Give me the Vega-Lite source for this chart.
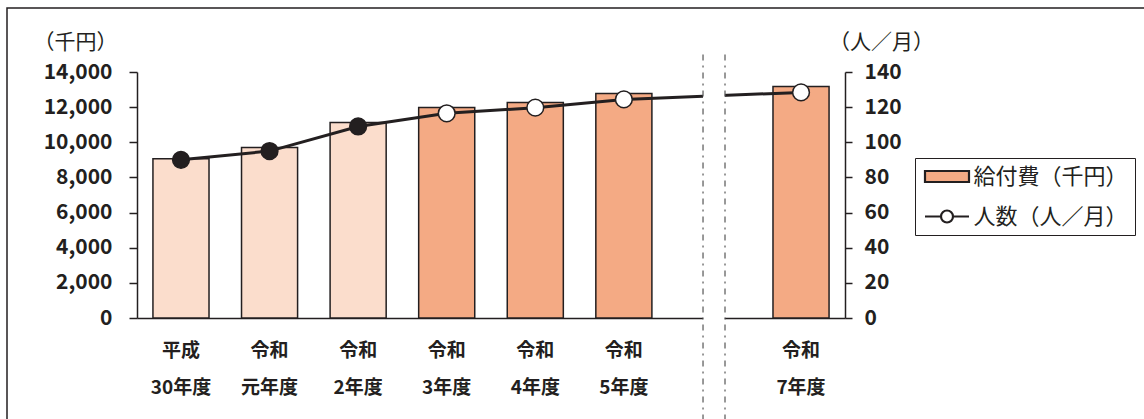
{
  "$schema": "https://vega.github.io/schema/vega-lite/v6.json",
  "width": 1137,
  "height": 411,
  "autosize": {"type": "none"},
  "padding": {"left": 7, "top": 8, "right": 0, "bottom": 0},
  "background": "white",
  "config": {
    "view": {"stroke": "#231F20", "strokeWidth": 1.5, "strokeDash": [1137, 1548, 411]},
    "font": "Noto Sans CJK JP",
    "axis": {
      "domainColor": "#231F20", "domainWidth": 1.5,
      "tickColor": "#231F20", "tickWidth": 1.5,
      "labelColor": "#231F20", "labelFont": "Noto Sans CJK JP", "labelFontWeight": "bold",
      "titleColor": "#231F20", "titleFont": "Noto Sans CJK JP", "titleFontWeight": "normal",
      "grid": false
    }
  },
  "data": {
    "values": [
      {"年度": "平成30年度", "給付費": 9070, "人数": 90, "区分": "実績"},
      {"年度": "令和元年度", "給付費": 9700, "人数": 95, "区分": "実績"},
      {"年度": "令和2年度", "給付費": 11130, "人数": 109, "区分": "実績"},
      {"年度": "令和3年度", "給付費": 11980, "人数": 116.5, "区分": "計画"},
      {"年度": "令和4年度", "給付費": 12260, "人数": 119.7, "区分": "計画"},
      {"年度": "令和5年度", "給付費": 12780, "人数": 124.4, "区分": "計画"},
      {"年度": "令和6年度", "給付費": null, "人数": null, "区分": "省略"},
      {"年度": "令和7年度", "給付費": 13180, "人数": 128.4, "区分": "計画"}
    ]
  },
  "resolve": {"scale": {"y": "independent", "fill": "independent", "color": "independent", "shape": "independent", "stroke": "independent"}},
  "layer": [
    {
      "transform": [{"filter": "isValid(datum['給付費'])"}],
      "mark": {"type": "bar", "stroke": "#231F20", "strokeWidth": 1.5},
      "encoding": {
        "x": {
          "field": "年度", "type": "nominal", "sort": null, "title": null,
          "scale": {"domain": ["平成30年度", "令和元年度", "令和2年度", "令和3年度", "令和4年度", "令和5年度", "令和6年度", "令和7年度"], "range": [130, 838], "paddingInner": 0.367, "paddingOuter": 0.18},
          "axis": {
            "orient": "bottom", "offset": -101, "ticks": false, "labelPadding": 23,
            "labelFontSize": 19, "labelLineHeight": 37, "labelAngle": 0, "labelOverlap": false,
            "labelExpr": "datum.value == '令和6年度' ? '' : [slice(datum.value, 0, 2), slice(datum.value, 2)]"
          }
        },
        "y": {
          "field": "給付費", "type": "quantitative",
          "scale": {"domain": [0, 14000], "range": [310, 64], "nice": false, "zero": true},
          "axis": {
            "orient": "left", "offset": -130,
            "values": [0, 2000, 4000, 6000, 8000, 10000, 12000, 14000], "format": ",.0f",
            "labelFontSize": 21, "labelPadding": 17, "tickSize": 8,
            "title": "（千円）", "titleAngle": 0, "titleX": -62, "titleY": 34,
            "titleAlign": "center", "titleBaseline": "middle", "titleFontSize": 21
          }
        },
        "fill": {
          "field": "区分", "type": "nominal",
          "scale": {"domain": ["実績", "計画"], "range": ["#FBDDCC", "#F4AA84"]},
          "legend": null
        }
      }
    },
    {
      "layer": [
        {
          "transform": [{"filter": "isValid(datum['人数'])"}],
          "mark": {"type": "line", "stroke": "#231F20", "strokeWidth": 3},
          "encoding": {
            "x": {"field": "年度", "type": "nominal", "sort": null,
              "scale": {"domain": ["平成30年度", "令和元年度", "令和2年度", "令和3年度", "令和4年度", "令和5年度", "令和6年度", "令和7年度"], "range": [130, 838], "paddingInner": 0.367, "paddingOuter": 0.18}},
            "y": {
              "field": "人数", "type": "quantitative",
              "scale": {"domain": [0, 140], "range": [310, 64], "nice": false, "zero": true},
              "axis": {
                "orient": "right", "offset": -299,
                "values": [0, 20, 40, 60, 80, 100, 120, 140], "format": ",.0f",
                "labelFontSize": 21, "labelPadding": 12, "tickSize": 7,
                "title": "（人／月）", "titleAngle": 0, "titleX": 36, "titleY": 34,
                "titleAlign": "center", "titleBaseline": "middle", "titleFontSize": 21
              }
            }
          }
        },
        {
          "transform": [{"filter": "datum['年度'] == '令和6年度'"}],
          "mark": {"type": "bar", "fill": "white", "width": {"band": 0.39}, "xOffset": 1.5},
          "encoding": {
            "x": {"field": "年度", "type": "nominal", "sort": null},
            "y": {"datum": 150, "type": "quantitative"},
            "y2": {"datum": -60}
          }
        },
        {
          "transform": [{"filter": "datum['年度'] == '令和6年度'"}],
          "mark": {"type": "rule", "stroke": "#555555", "strokeWidth": 1.2, "strokeDash": [6, 5, 2, 5]},
          "encoding": {
            "x": {"field": "年度", "type": "nominal", "sort": null, "bandPosition": 0.332},
            "y": {"datum": 150, "type": "quantitative"},
            "y2": {"datum": -60}
          }
        },
        {
          "transform": [{"filter": "datum['年度'] == '令和6年度'"}],
          "mark": {"type": "rule", "stroke": "#555555", "strokeWidth": 1.2, "strokeDash": [6, 5, 2, 5]},
          "encoding": {
            "x": {"field": "年度", "type": "nominal", "sort": null, "bandPosition": 0.724},
            "y": {"datum": 150, "type": "quantitative"},
            "y2": {"datum": -60}
          }
        },
        {
          "transform": [{"filter": "isValid(datum['人数'])"}],
          "mark": {"type": "point", "filled": true, "size": 280, "stroke": "#231F20", "strokeWidth": 1.5, "opacity": 1},
          "encoding": {
            "x": {"field": "年度", "type": "nominal", "sort": null},
            "y": {"field": "人数", "type": "quantitative"},
            "color": {
              "field": "区分", "type": "nominal",
              "scale": {"domain": ["実績", "計画"], "range": ["#231F20", "#FFFFFF"]},
              "legend": null
            }
          }
        },
        {
          "data": {"values": [{"系列": "給付費（千円）"}, {"系列": "人数（人／月）"}]},
          "mark": {"type": "point", "filled": true, "opacity": 0},
          "encoding": {
            "fill": {
              "field": "系列", "type": "nominal",
              "scale": {"domain": ["給付費（千円）", "人数（人／月）"], "range": ["#F4AA84", "#FFFFFF"]},
              "legend": {
                "title": null, "orient": "none", "legendX": 908, "legendY": 150,
                "strokeColor": "#231F20", "fillColor": "white", "padding": 7,
                "symbolSize": 400, "symbolOffset": 13.5, "symbolStrokeWidth": 2.2,
                "symbolOpacity": 1, "labelOffset": 15, "rowPadding": 17,
                "labelFont": "Noto Sans CJK JP", "labelFontSize": 22, "labelColor": "#231F20", "labelLimit": 400
              }
            },
            "stroke": {
              "field": "系列", "type": "nominal",
              "scale": {"domain": ["給付費（千円）", "人数（人／月）"], "range": ["#231F20", "#231F20"]},
              "legend": {
                "title": null, "orient": "none", "legendX": 908, "legendY": 150,
                "strokeColor": "#231F20", "fillColor": "white", "padding": 7,
                "symbolSize": 400, "symbolOffset": 13.5, "symbolStrokeWidth": 2.2,
                "symbolOpacity": 1, "labelOffset": 15, "rowPadding": 17,
                "labelFont": "Noto Sans CJK JP", "labelFontSize": 22, "labelColor": "#231F20", "labelLimit": 400
              }
            },
            "shape": {
              "field": "系列", "type": "nominal",
              "scale": {"domain": ["給付費（千円）", "人数（人／月）"], "range": ["M-2.2,-0.55H2.2V0.55H-2.2Z", "M-2.2,0H-0.6M0.6,0H2.2M0.6,0A0.6,0.6 0 1 1 -0.6,0A0.6,0.6 0 1 1 0.6,0Z"]},
              "legend": {
                "title": null, "orient": "none", "legendX": 908, "legendY": 150,
                "strokeColor": "#231F20", "fillColor": "white", "padding": 7,
                "symbolSize": 400, "symbolOffset": 13.5, "symbolStrokeWidth": 2.2,
                "symbolOpacity": 1, "labelOffset": 15, "rowPadding": 17,
                "labelFont": "Noto Sans CJK JP", "labelFontSize": 22, "labelColor": "#231F20", "labelLimit": 400
              }
            }
          }
        }
      ]
    }
  ]
}
